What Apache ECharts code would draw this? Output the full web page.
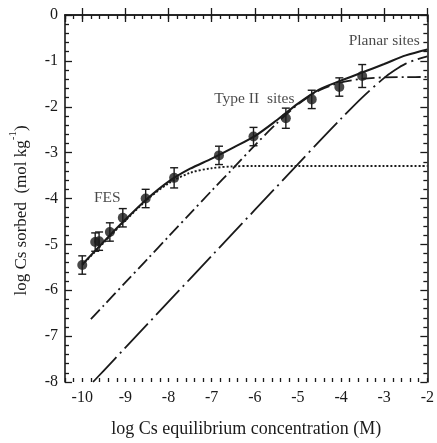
<!DOCTYPE html>
<html>
<head>
<meta charset="utf-8">
<script src="https://cdn.jsdelivr.net/npm/echarts@6/dist/echarts.min.js"></script>
<style>
  html, body { margin: 0; padding: 0; background: #fff; }
  #chart { width: 437px; height: 443px; }
</style>
</head>
<body>
<div id="chart"></div>
<script>
var chart = echarts.init(document.getElementById('chart'));

// measured points with error bars
var obsX = [-10.0, -9.70, -9.61, -9.36, -9.06, -8.53, -7.87, -6.83, -6.03, -5.28, -4.68, -4.04, -3.51];
var obsY = [-5.45, -4.95, -4.93, -4.73, -4.42, -4.00, -3.55, -3.06, -2.65, -2.25, -1.84, -1.57, -1.33];
var obsErr = [0.2, 0.2, 0.2, 0.2, 0.2, 0.2, 0.22, 0.2, 0.2, 0.22, 0.2, 0.2, 0.25];

// total model (solid)
var totX = [-10, -9.5, -9, -8.5, -8, -7.5, -7, -6.5, -6, -5.5, -5, -4.5, -4, -3.5, -3, -2.5, -2];
var totY = [-5.44, -4.94, -4.46, -4.01, -3.63, -3.35, -3.13, -2.89, -2.64, -2.30, -1.93, -1.62, -1.43, -1.25, -1.07, -0.88, -0.75];

// FES (dotted)
var fesX = [-10, -9.5, -9, -8.5, -8, -7.5, -7, -6.5, -6, -5.5, -5, -4, -3, -2];
var fesY = [-5.45, -4.96, -4.48, -4.03, -3.67, -3.44, -3.34, -3.30, -3.29, -3.29, -3.29, -3.29, -3.29, -3.29];

// Type II sites (dash-dot)
var t2X = [-9.8, -9.5, -9, -8.5, -8, -7.5, -7, -6.5, -6, -5.5, -5, -4.5, -4, -3.5, -3, -2.5, -2];
var t2Y = [-6.63, -6.33, -5.83, -5.33, -4.83, -4.33, -3.83, -3.34, -2.84, -2.37, -1.95, -1.64, -1.47, -1.39, -1.36, -1.355, -1.35];

// Planar sites (long dash-dot)
var plX = [-9.75, -9.5, -9, -8, -7, -6, -5, -4.5, -4, -3.5, -3, -2.75, -2.5, -2.25, -2];
var plY = [-8, -7.75, -7.25, -6.25, -5.25, -4.25, -3.25, -2.75, -2.26, -1.79, -1.37, -1.2, -1.06, -0.97, -0.90];

// text annotations
var notes = [[-9.42, -3.98, 'FES'], [-6.01, -1.82, 'Type II  sites'], [-3.0, -0.56, 'Planar sites']];

var ink = '#1a1a1a';
var font = 'Liberation Serif';

function zip(xs, ys) {
  var out = [];
  for (var i = 0; i < xs.length; i++) out.push([xs[i], ys[i]]);
  return out;
}

var errData = [];
for (var i = 0; i < obsX.length; i++) {
  errData.push([obsX[i], obsY[i] - obsErr[i], obsY[i] + obsErr[i]]);
}

function renderErr(params, api) {
  var x = api.value(0);
  var a = api.coord([x, api.value(2)]);
  var b = api.coord([x, api.value(1)]);
  var w = 4;
  var st = { stroke: ink, lineWidth: 1.4 };
  return {
    type: 'group',
    children: [
      { type: 'line', shape: { x1: a[0], y1: a[1], x2: b[0], y2: b[1] }, style: st },
      { type: 'line', shape: { x1: a[0] - w, y1: a[1], x2: a[0] + w, y2: a[1] }, style: st },
      { type: 'line', shape: { x1: b[0] - w, y1: b[1], x2: b[0] + w, y2: b[1] }, style: st }
    ]
  };
}

function xAx(pos, major, labels) {
  var ax = {
    type: 'value', position: pos, min: -10.4, max: -2,
    axisLine: { show: major, lineStyle: { color: ink, width: 1.6 } },
    axisTick: { show: true, inside: true, length: major ? 7 : 4, lineStyle: { color: ink, width: 1.3 } },
    axisLabel: { show: labels, showMinLabel: false, margin: 8, color: ink, fontFamily: font, fontSize: 16 },
    splitLine: { show: false }
  };
  if (major) { ax.minInterval = 1; ax.maxInterval = 1; }
  else { ax.interval = 0.2; }
  return ax;
}

function yAx(pos, labels) {
  return {
    type: 'value', position: pos, min: -8, max: 0, interval: 1,
    axisLine: { show: true, lineStyle: { color: ink, width: 1.6 } },
    axisTick: { show: true, inside: true, length: 7, lineStyle: { color: ink, width: 1.3 } },
    minorTick: { show: true, splitNumber: 5, length: 4, lineStyle: { color: ink, width: 1.3 } },
    axisLabel: { show: labels, margin: 7, color: ink, fontFamily: font, fontSize: 16 },
    splitLine: { show: false }
  };
}

var xb = xAx('bottom', true, true);
xb.name = 'log Cs equilibrium concentration (M)';
xb.nameLocation = 'middle';
xb.nameGap = 38;
xb.nameTextStyle = { color: ink, fontFamily: font, fontSize: 18 };

var yl = yAx('left', true);
yl.name = '{a|log Cs sorbed  (mol kg}{s|-1}{a|)}';
yl.nameLocation = 'middle';
yl.nameGap = 35;
yl.nameTextStyle = {
  padding: [0, 24, 0, 0],
  rich: {
    a: { color: ink, fontFamily: font, fontSize: 17, lineHeight: 22, verticalAlign: 'bottom' },
    s: { color: ink, fontFamily: font, fontSize: 11, lineHeight: 22, verticalAlign: 'top' }
  }
};

chart.setOption({
  animation: false,
  backgroundColor: '#fff',
  grid: { left: 62, right: 6, top: 15, bottom: 58 },
  xAxis: [xb, xAx('top', true, false), xAx('bottom', false, false), xAx('top', false, false)],
  yAxis: [yl, yAx('right', false)],
  series: [
    {
      type: 'line', data: zip(plX, plY), showSymbol: false, smooth: 0.3, clip: true,
      lineStyle: { color: ink, width: 1.8, type: [34, 5, 2, 5] }
    },
    {
      type: 'line', data: zip(t2X, t2Y), showSymbol: false, smooth: 0.3, clip: true,
      lineStyle: { color: ink, width: 1.8, type: [13, 4, 2, 4] }
    },
    {
      type: 'line', data: zip(fesX, fesY), showSymbol: false, smooth: 0.3, clip: true,
      lineStyle: { color: ink, width: 1.9, type: [2, 2] }
    },
    {
      type: 'line', data: zip(totX, totY), showSymbol: false, smooth: 0.3, clip: true,
      lineStyle: { color: ink, width: 2.1 }
    },
    {
      type: 'custom', renderItem: renderErr, data: errData, z: 5
    },
    {
      type: 'scatter', data: zip(obsX, obsY), symbol: 'circle', symbolSize: 10, z: 6,
      itemStyle: { color: ink }
    },
    {
      type: 'scatter', data: notes, symbolSize: 0, silent: true,
      label: {
        show: true, position: 'inside', color: ink, fontFamily: font, fontSize: 15.5,
        formatter: function (p) { return p.data[2]; }
      }
    }
  ]
});
</script>
</body>
</html>
